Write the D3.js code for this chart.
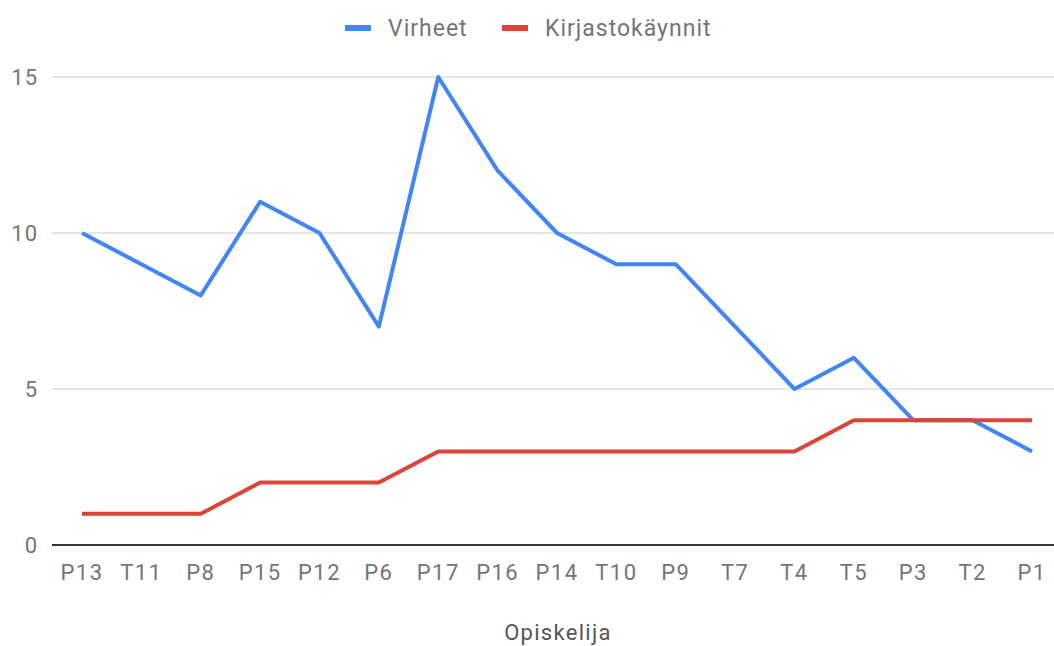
<!DOCTYPE html>
<html>
<head>
<meta charset="utf-8">
<script src="https://cdn.jsdelivr.net/npm/d3@7"></script>
<style>
  body { margin: 0; background: #fff; }
  svg { font-family: Roboto, sans-serif; }
</style>
</head>
<body>
<div id="chart"></div>
<script>
// opiskelijat x-akselilla
const categories = ["P13", "T11", "P8", "P15", "P12", "P6", "P17", "P16", "P14", "T10", "P9", "T7", "T4", "T5", "P3", "T2", "P1"];
const virheet = [10, 9, 8, 11, 10, 7, 15, 12, 10, 9, 9, 7, 5, 6, 4, 4, 3];
const kaynnit = [1, 1, 1, 2, 2, 2, 3, 3, 3, 3, 3, 3, 3, 4, 4, 4, 4];
const yTicks = [0, 5, 10, 15];

const seriesList = [
    { name: "Virheet", values: virheet, color: "#4285f4" },
    { name: "Kirjastokäynnit", values: kaynnit, color: "#db4437" }
];

const width = 1054, height = 646;

const svg = d3.select("#chart")
    .append("svg")
    .attr("width", width)
    .attr("height", height);

const x = d3.scalePoint()
    .domain(categories)
    .range([82, 1032]);

const y = d3.scaleLinear()
    .domain([0, 15])
    .range([545, 77]);

// ruudukko
svg.selectAll(".grid")
    .data(yTicks.filter(d => d !== 0))
    .enter()
    .append("line")
    .attr("x1", 52)
    .attr("x2", width)
    .attr("y1", d => y(d))
    .attr("y2", d => y(d))
    .attr("stroke", "#cccccc")
    .attr("stroke-width", 1);

svg.selectAll(".ylab")
    .data(yTicks)
    .enter()
    .append("text")
    .attr("x", 38)
    .attr("y", d => y(d) + 8)
    .attr("text-anchor", "end")
    .attr("fill", "#757575")
    .attr("font-size", "22px")
    .attr("letter-spacing", "1px")
    .text(d => d);

// viivat
const line = d3.line()
    .x((d, i) => x(categories[i]))
    .y(d => y(d));

svg.selectAll(".series")
    .data(seriesList)
    .enter()
    .append("path")
    .attr("d", d => line(d.values))
    .attr("fill", "none")
    .attr("stroke", d => d.color)
    .attr("stroke-width", 4)
    .attr("stroke-linejoin", "round");

// x-akseli
svg.append("line")
    .attr("x1", 52)
    .attr("x2", width)
    .attr("y1", y(0))
    .attr("y2", y(0))
    .attr("stroke", "#333333")
    .attr("stroke-width", 2);

svg.selectAll(".xlab")
    .data(categories)
    .enter()
    .append("text")
    .attr("x", d => x(d))
    .attr("y", 580)
    .attr("text-anchor", "middle")
    .attr("fill", "#757575")
    .attr("font-size", "22px")
    .attr("letter-spacing", "1.4px")
    .text(d => d);

svg.append("text")
    .attr("x", 558)
    .attr("y", 640)
    .attr("text-anchor", "middle")
    .attr("fill", "#555555")
    .attr("font-size", "22px")
    .attr("letter-spacing", "1.3px")
    .text("Opiskelija");

// selite
const legendX = [345, 502];
const legend = svg.selectAll(".legend")
    .data(seriesList)
    .enter()
    .append("g")
    .attr("transform", (d, i) => `translate(${legendX[i]},28)`);

legend.append("rect")
    .attr("x", 0)
    .attr("y", -3)
    .attr("width", 26)
    .attr("height", 6)
    .attr("fill", d => d.color);

legend.append("text")
    .attr("x", 43)
    .attr("y", 8)
    .attr("fill", "#757575")
    .attr("font-size", "23px")
    .attr("letter-spacing", "1px")
    .text(d => d.name);
</script>
</body>
</html>
